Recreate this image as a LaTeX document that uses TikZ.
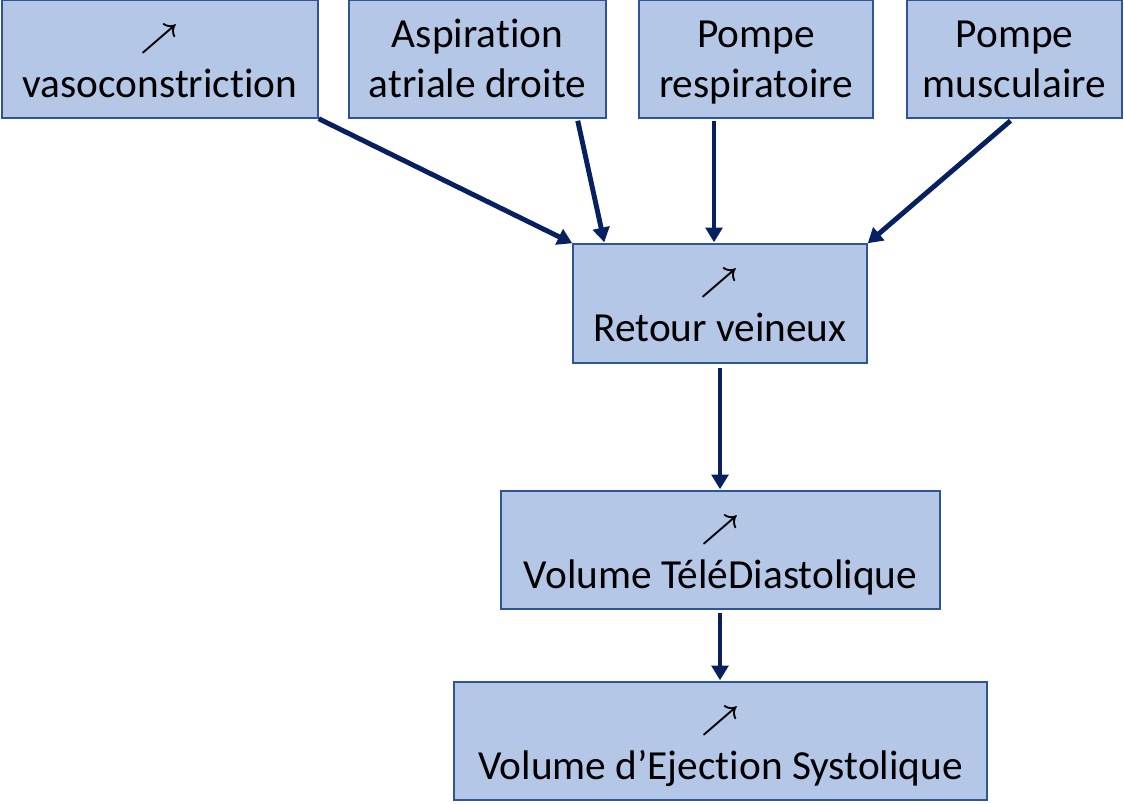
\documentclass[tikz,border=0pt]{standalone}
\usepackage{fontspec}
\setmainfont{Carlito}[Ligatures=NoCommon]
\usetikzlibrary{positioning,arrows.meta,calc}
\definecolor{boxfill}{HTML}{B4C7E7}
\definecolor{boxline}{HTML}{2F5597}
\definecolor{navy}{HTML}{072060}
\tikzset{
  stage/.style={draw=boxline,line width=1.1pt,fill=boxfill,align=center,
            inner sep=0pt,minimum height=88.5pt,
            font=\fontsize{31}{37.5}\selectfont},
  flow/.style={-{Triangle[length=11pt,width=12.5pt]},line width=3.7pt,navy},
}
\newcommand{\bx}{\rule[-6.5pt]{0pt}{32.5pt}}
\newcommand{\up}{\bx{\fontsize{27}{30}\selectfont\boldmath$\nearrow$}}

\begin{document}
\begin{tikzpicture}[x=0.75pt,y=-0.75pt]
  \useasboundingbox (0,0) rectangle (1124,803);
  \node[stage,minimum width=237pt] (vaso) at (160,59)
        {\up\\\bx vasoconstriction};
  \node[stage,minimum width=192.75pt] (aspi) at (477.5,59)
        {\bx Aspiration\\\bx atriale droite};
  \node[stage,minimum width=175.5pt] (resp) at (756,59)
        {\bx Pompe\\\bx respiratoire};
  \node[stage,minimum width=161.25pt] (musc) at (1014.5,59)
        {\bx Pompe\\\bx musculaire};
  \node[stage,minimum width=220.5pt,minimum height=89.25pt] (rv) at (720,303.5)
        {\up\\\bx Retour veineux};
  \node[stage,minimum width=329.25pt] (vtd) at (720.5,550)
        {\up\\\bx Volume TéléDiastolique};
  \node[stage,minimum width=399.75pt] (ves) at (720.5,741)
        {\up\\\bx Volume d’Ejection Systolique};
  \draw[flow] (vaso.south east) -- (rv.north west);
  \draw[flow] ($(aspi.south east)+(-29,2)$) -- ($(rv.north west)+(32,-1)$);
  \draw[flow] ($(resp.south)+(-42,2)$) -- ($(rv.north)+(-6,-1)$);
  \draw[flow] ($(musc.south)+(-4,2)$) -- (rv.north east);
  \draw[flow] ($(rv.south)+(0,4)$) -- ($(vtd.north)+(-0.5,-1)$);
  \draw[flow] ($(vtd.south)+(-0.5,3)$) -- ($(ves.north)+(-0.5,-1)$);
\end{tikzpicture}
\end{document}
